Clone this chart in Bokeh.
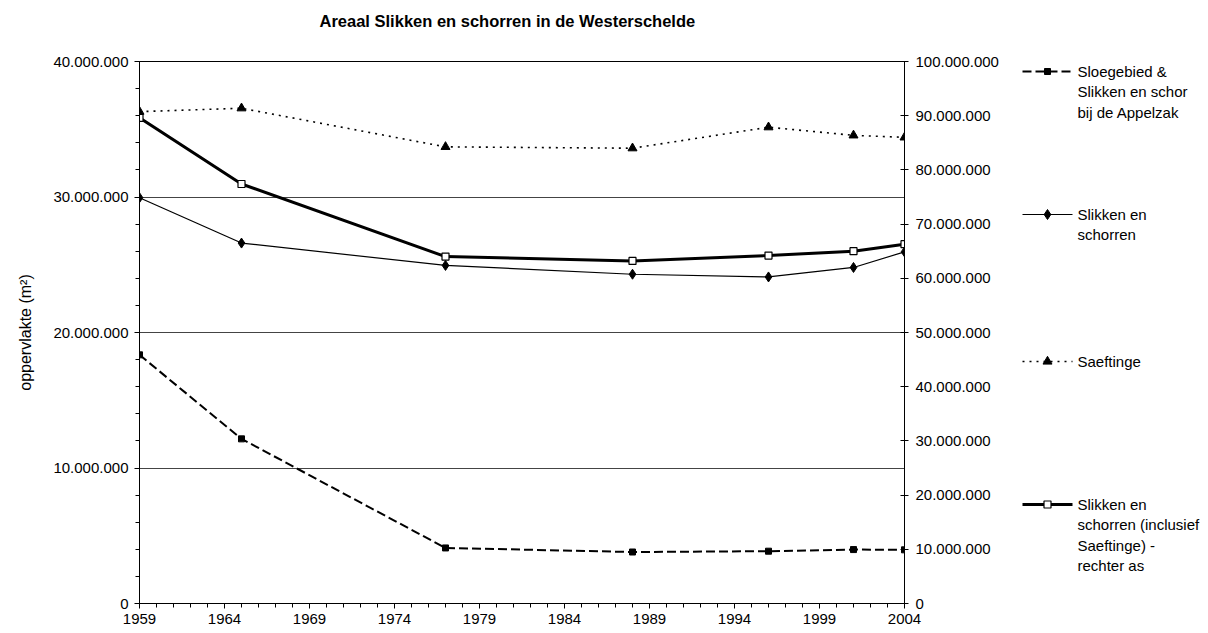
from bokeh.plotting import figure
from bokeh.layouts import row
from bokeh.models import Range1d, LinearAxis, FixedTicker, CustomJSTickFormatter, Title
from bokeh.core.properties import value
from bokeh.embed import file_html
from bokeh.resources import INLINE

# ---------------- data ----------------
years = [1959, 1965, 1977, 1988, 1996, 2001, 2004]
sloegebied = [18.35e6, 12.15e6, 4.1e6, 3.8e6, 3.86e6, 3.98e6, 3.96e6]          # left axis
slikken = [29.95e6, 26.6e6, 24.95e6, 24.3e6, 24.1e6, 24.8e6, 25.95e6]          # left axis
saeftinge = [36.3e6, 36.55e6, 33.7e6, 33.6e6, 35.15e6, 34.55e6, 34.4e6]        # left axis
totaal = [89.6e6, 77.4e6, 64.0e6, 63.2e6, 64.2e6, 65.0e6, 66.3e6]              # right axis

year_ticks = [1959, 1964, 1969, 1974, 1979, 1984, 1989, 1994, 1999, 2004]
year_minor = list(range(1959, 2005))
left_ticks = [0, 10e6, 20e6, 30e6, 40e6]
left_minor = [v * 1e6 for v in range(0, 41, 2)]
right_ticks = [v * 1e6 for v in range(0, 101, 10)]

title_text = "Areaal Slikken en schorren in de Westerschelde"
y_label = "oppervlakte (m²)"
legend_texts = [
    ["Sloegebied &", "Slikken en schor", "bij de Appelzak"],
    ["Slikken en", "schorren"],
    ["Saeftinge"],
    ["Slikken en", "schorren (inclusief", "Saeftinge) -", "rechter as"],
]

# ---------------- layout ----------------
H = 630
W1 = 1010            # main chart width
W2 = 190             # legend panel width
FL, FT, FW, FH = 139, 61, 765, 542
FB = H - FT - FH
FONT = "Liberation Sans"

p = figure(width=W1, height=H, x_range=Range1d(1959, 2004), y_range=Range1d(0, 40e6),
           output_backend="svg", toolbar_location=None,
           min_border_left=FL, min_border_right=W1 - FL - FW,
           min_border_top=FT, min_border_bottom=FB,
           background_fill_color="white", border_fill_color="white")
p.extra_y_ranges = {"right": Range1d(0, 100e6)}
p.outline_line_color = "black"
p.outline_line_width = 1

# an empty second line lifts the title away from the plot area
p.title = Title(text=title_text + "\n ", align="left", offset=180, standoff=10,
                vertical_align="bottom", text_font=FONT, text_font_size="16.5px",
                text_line_height=1.45, text_font_style="bold", text_color="black")

fmt = CustomJSTickFormatter(code="""
return Math.round(tick).toString().replace(/\\B(?=(\\d{3})+(?!\\d))/g, '.');
""")

# x axis
xa = p.xaxis[0]
xa.ticker = FixedTicker(ticks=year_ticks, minor_ticks=year_minor)
xa.major_tick_out = 5
xa.major_tick_in = 0
xa.minor_tick_out = 4
xa.minor_tick_in = 0
xa.major_label_standoff = 5
xa.axis_line_color = "black"
xa.major_tick_line_color = "black"
xa.minor_tick_line_color = "black"
xa.major_label_text_font = FONT
xa.major_label_text_font_size = "15px"
xa.major_label_text_color = "black"

# left axis
ya = p.yaxis[0]
ya.ticker = FixedTicker(ticks=left_ticks, minor_ticks=left_minor)
ya.formatter = fmt
ya.major_tick_out = 5
ya.major_tick_in = 0
ya.minor_tick_out = 4
ya.minor_tick_in = 0
ya.major_label_standoff = 6
ya.axis_line_color = "black"
ya.major_tick_line_color = "black"
ya.minor_tick_line_color = "black"
ya.major_label_text_font = FONT
ya.major_label_text_font_size = "15px"
ya.major_label_text_color = "black"
ya.axis_label = y_label
ya.axis_label_text_font = FONT
ya.axis_label_text_font_size = "16px"
ya.axis_label_text_font_style = "normal"
ya.axis_label_text_color = "black"
ya.axis_label_standoff = 16

# right axis
ra = LinearAxis(y_range_name="right", ticker=FixedTicker(ticks=right_ticks, minor_ticks=[]),
                formatter=fmt)
ra.major_tick_out = 4
ra.major_tick_in = 4
ra.minor_tick_out = 0
ra.minor_tick_in = 0
ra.major_label_standoff = 7
ra.axis_line_color = "black"
ra.major_tick_line_color = "black"
ra.major_label_text_font = FONT
ra.major_label_text_font_size = "15px"
ra.major_label_text_color = "black"
p.add_layout(ra, "right")

# grid
p.xgrid.visible = False
p.ygrid[0].ticker = FixedTicker(ticks=left_ticks)
p.ygrid.grid_line_color = "#444444"
p.ygrid.grid_line_width = 1

# ---------------- series ----------------
DASH = "9 4"
DOT = "2 5"
series = [
    dict(y=sloegebied, lw=2, dash=DASH, marker="square", size=6, fill="black", rng="default"),
    dict(y=slikken, lw=1.2, dash="solid", marker="diamond", size=10, fill="black", rng="default"),
    dict(y=saeftinge, lw=1.6, dash=DOT, marker="triangle", size=9, fill="black", rng="default"),
    dict(y=totaal, lw=3, dash="solid", marker="square", size=7, fill="white", rng="right"),
]
for s in series:
    p.line(years, s["y"], line_color="black", line_width=s["lw"], line_dash=s["dash"],
           y_range_name=s["rng"])
    p.scatter(years, s["y"], marker=s["marker"], size=s["size"], fill_color=s["fill"],
              line_color="black", line_width=1.2 if s["fill"] == "white" else 1,
              y_range_name=s["rng"])

# ---------------- legend panel (separate figure, page-pixel coordinates) ----------------
q = figure(width=W2, height=H, x_range=Range1d(W1, W1 + W2), y_range=Range1d(FT + FH, FT),
           output_backend="svg", toolbar_location=None,
           min_border_left=0, min_border_right=0, min_border_top=FT, min_border_bottom=FB,
           background_fill_color="white", border_fill_color="white")
q.axis.visible = False
q.grid.visible = False
q.outline_line_color = None

SX0, SX1, SXM, TX = 1022, 1072, 1047, 1077
rows = [71, 214, 361, 504]
LINE_H = 20.3
for s, ry, texts in zip(series, rows, legend_texts):
    q.line([SX0, SX1], [ry, ry], line_color="black", line_width=s["lw"], line_dash=s["dash"])
    q.scatter([SXM], [ry], marker=s["marker"], size=s["size"], fill_color=s["fill"],
              line_color="black", line_width=1.2 if s["fill"] == "white" else 1)
    q.text([TX] * len(texts), [ry + j * LINE_H for j in range(len(texts))], text=texts,
           text_font=value(FONT), text_font_size="15px", text_baseline="middle",
           text_align="left", text_color="black")

layout = row(p, q)
open("out.html", "w").write(file_html(layout, INLINE))
